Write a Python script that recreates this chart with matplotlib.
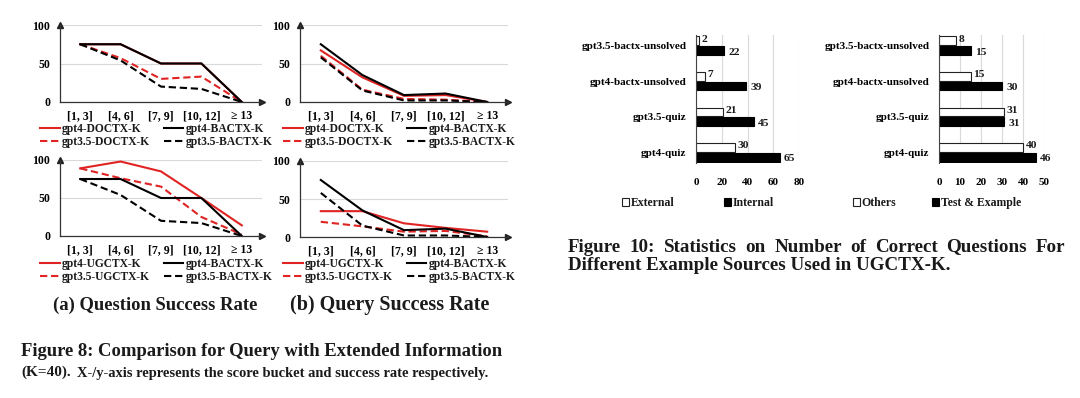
import numpy as np
import matplotlib
matplotlib.use("Agg")
import matplotlib.pyplot as plt
from matplotlib.patches import Patch

W, H = 1080, 398
RED = "#e02323"
INK = "#1a1a1a"
GRID = "#d9d9d9"

plt.rcParams['font.family'] = ['Liberation Serif', 'DejaVu Serif']
plt.rcParams['font.weight'] = 'bold'
plt.rcParams['text.color'] = INK

# score buckets on the x axis of the line charts
buckets = ['[1, 3]', '[4, 6]', '[7, 9]', '[10, 12]', '≥ 13']

# (a) question success rate
q_gpt4_doctx = [75, 75, 50, 50, 0]
q_gpt35_doctx = [75, 57, 30, 33, 0]
q_gpt4_ugctx = [89, 98, 85, 50, 14]
q_gpt35_ugctx = [89, 76, 65, 25, 2]
q_gpt4_bactx = [75, 75, 50, 50, 0]
q_gpt35_bactx = [75, 54, 20, 17, 0]

# (b) query success rate
r_gpt4_doctx = [67, 32, 8, 9, 0]
r_gpt35_doctx = [60, 16, 4, 3, 0]
r_gpt4_ugctx = [34, 34, 18, 12, 7]
r_gpt35_ugctx = [20, 14, 7, 8, 1]
r_gpt4_bactx = [75, 35, 9, 11, 0]
r_gpt35_bactx = [58, 15, 2, 2, 0]

# figure 10: correct questions per example source
sources = ['gpt3.5-bactx-unsolved', 'gpt4-bactx-unsolved', 'gpt3.5-quiz', 'gpt4-quiz']
external = [2, 7, 21, 30]
internal = [22, 39, 45, 65]
others = [8, 15, 31, 40]
test_example = [15, 30, 31, 46]

fig = plt.figure(figsize=(W / 100, H / 100), dpi=100)
fig.patch.set_facecolor('white')
renderer = fig.canvas.get_renderer()


def px_axes(left, top, right, bottom):
    """Axes placed by pixel edges (origin top-left)."""
    return fig.add_axes([left / W, 1 - bottom / H,
                         (right - left) / W, (bottom - top) / H])


def line_panel(ax, series, legend_xy):
    x = np.arange(len(buckets))
    for vals, color, dashed, label in series:
        ax.plot(x, vals, color=color, lw=1.5,
                ls=(0, (3.5, 1.8)) if dashed else '-', label=label)
    ax.set_xlim(-0.5, 4.5)
    ax.set_ylim(0, 100)
    ax.set_yticks([0, 50, 100])
    ax.set_xticks(x, buckets)
    ax.grid(axis='y', color=GRID, lw=0.8)
    ax.set_axisbelow(True)
    for s in ['top', 'right']:
        ax.spines[s].set_visible(False)
    for s in ['left', 'bottom']:
        ax.spines[s].set_color('#333333')
        ax.spines[s].set_linewidth(0.9)
    ax.tick_params(axis='x', length=0, labelsize=8.5, pad=6)
    ax.tick_params(axis='y', length=0, labelsize=8.5, pad=7)
    # arrow heads at the axis ends
    ax.plot(1, 0, '>', color='#222222', ms=4, transform=ax.transAxes, clip_on=False)
    ax.plot(0, 1, '^', color='#222222', ms=4, transform=ax.transAxes, clip_on=False)
    ax.legend(loc='center left', bbox_to_anchor=(legend_xy[0] / W, 1 - legend_xy[1] / H),
              bbox_transform=fig.transFigure, ncol=2, frameon=False,
              fontsize=8.3, handlelength=1.7, handletextpad=0.2,
              columnspacing=1.2, labelspacing=0.05, borderpad=0, borderaxespad=0)


def bar_panel(ax, a, b, names, xmax, step, legend_xy, colspace):
    y = np.arange(len(sources))
    h = 0.25
    b1 = ax.barh(y - 0.135, a, h, color='white', edgecolor='#222222', lw=0.8, label=names[0])
    b2 = ax.barh(y + 0.135, b, h, color='black', edgecolor='black', lw=0.8, label=names[1])
    # nudge the two value labels apart a little, as in the original
    for ann in ax.bar_label(b1, padding=2, fontsize=8.2):
        ann.xyann = (2, 1.2)
    for ann in ax.bar_label(b2, padding=3, fontsize=8.2):
        ann.xyann = (3, -1.2)
    ax.set_ylim(3.3, -0.3)
    ax.set_xlim(0, xmax)
    ax.set_xticks(range(0, xmax + 1, step))
    ax.set_yticks(y, sources)
    ax.grid(axis='x', color=GRID, lw=0.8)
    ax.set_axisbelow(True)
    for s in ['top', 'right', 'bottom']:
        ax.spines[s].set_visible(False)
    ax.spines['left'].set_color('#444444')
    ax.tick_params(axis='x', length=0, labelsize=8, pad=11)
    ax.tick_params(axis='y', length=0, labelsize=8, pad=7)
    handles = [Patch(facecolor='white', edgecolor='#222222', lw=0.8),
               Patch(facecolor='black', edgecolor='black', lw=0.8)]
    ax.legend(handles, names, loc='center left',
              bbox_to_anchor=(legend_xy[0] / W, 1 - legend_xy[1] / H),
              bbox_transform=fig.transFigure, ncol=2, frameon=False,
              fontsize=8.5, handlelength=0.6, handleheight=0.6,
              handletextpad=0.15, columnspacing=colspace,
              borderpad=0, borderaxespad=0)


# figure 8 line charts
ax1 = px_axes(60, 25, 262, 102)
line_panel(ax1, [(q_gpt4_doctx, RED, False, 'gpt4-DOCTX-K'),
                 (q_gpt35_doctx, RED, True, 'gpt3.5-DOCTX-K'),
                 (q_gpt4_bactx, 'black', False, 'gpt4-BACTX-K'),
                 (q_gpt35_bactx, 'black', True, 'gpt3.5-BACTX-K')], (40, 135.5))
ax2 = px_axes(300, 25, 508, 102)
line_panel(ax2, [(r_gpt4_doctx, RED, False, 'gpt4-DOCTX-K'),
                 (r_gpt35_doctx, RED, True, 'gpt3.5-DOCTX-K'),
                 (r_gpt4_bactx, 'black', False, 'gpt4-BACTX-K'),
                 (r_gpt35_bactx, 'black', True, 'gpt3.5-BACTX-K')], (283, 135.5))
ax3 = px_axes(60, 160, 262, 236)
line_panel(ax3, [(q_gpt4_ugctx, RED, False, 'gpt4-UGCTX-K'),
                 (q_gpt35_ugctx, RED, True, 'gpt3.5-UGCTX-K'),
                 (q_gpt4_bactx, 'black', False, 'gpt4-BACTX-K'),
                 (q_gpt35_bactx, 'black', True, 'gpt3.5-BACTX-K')], (40, 270.5))
ax4 = px_axes(300, 161, 508, 237)
line_panel(ax4, [(r_gpt4_ugctx, RED, False, 'gpt4-UGCTX-K'),
                 (r_gpt35_ugctx, RED, True, 'gpt3.5-UGCTX-K'),
                 (r_gpt4_bactx, 'black', False, 'gpt4-BACTX-K'),
                 (r_gpt35_bactx, 'black', True, 'gpt3.5-BACTX-K')], (283, 270.5))

# figure 10 bar charts
bx1 = px_axes(696, 35, 799, 163)
bar_panel(bx1, external, internal, ['External', 'Internal'], 80, 20, (622, 203), 4.2)
bx2 = px_axes(939, 35, 1044, 163)
bar_panel(bx2, others, test_example, ['Others', 'Test & Example'], 50, 10, (853, 203), 3.0)


def place(x, y, s, size, width=None, ha='left'):
    """Text at pixel position; optionally scaled to a target pixel width."""
    t = fig.text(x / W, 1 - y / H, s, fontsize=size, va='center', ha=ha, fontweight='bold')
    if width:
        w = t.get_window_extent(renderer).width
        t.set_fontsize(size * width / w)
    return t


def justify(x0, x1, y, s, size):
    """Spread the words of one line across x0..x1, like the justified caption."""
    words = s.split()
    widths = []
    for w in words:
        t = fig.text(0, 0, w, fontsize=size, fontweight='bold')
        widths.append(t.get_window_extent(renderer).width)
        t.remove()
    gap = (x1 - x0 - sum(widths)) / (len(words) - 1)
    x = x0
    for w, wd in zip(words, widths):
        place(x, y, w, size)
        x += wd + gap


place(155, 305, '(a) Question Success Rate', 12.5, width=205, ha='center')
place(390, 305, '(b) Query Success Rate', 12.5, width=200, ha='center')

place(21, 352, 'Figure 8: Comparison for Query with Extended Information', 12.5, width=481)
place(21, 372, '(K=40).', 12.5, width=50)
place(77, 373, 'X-/y-axis represents the score bucket and success rate respectively.',
      9.5, width=415)

line2 = place(568, 266, 'Different Example Sources Used in UGCTX-K.', 12.5, width=384)
justify(568, 1065, 247, 'Figure 10: Statistics on Number of Correct Questions For',
        line2.get_fontsize())

fig.savefig('out.png', dpi=100, facecolor='white')
